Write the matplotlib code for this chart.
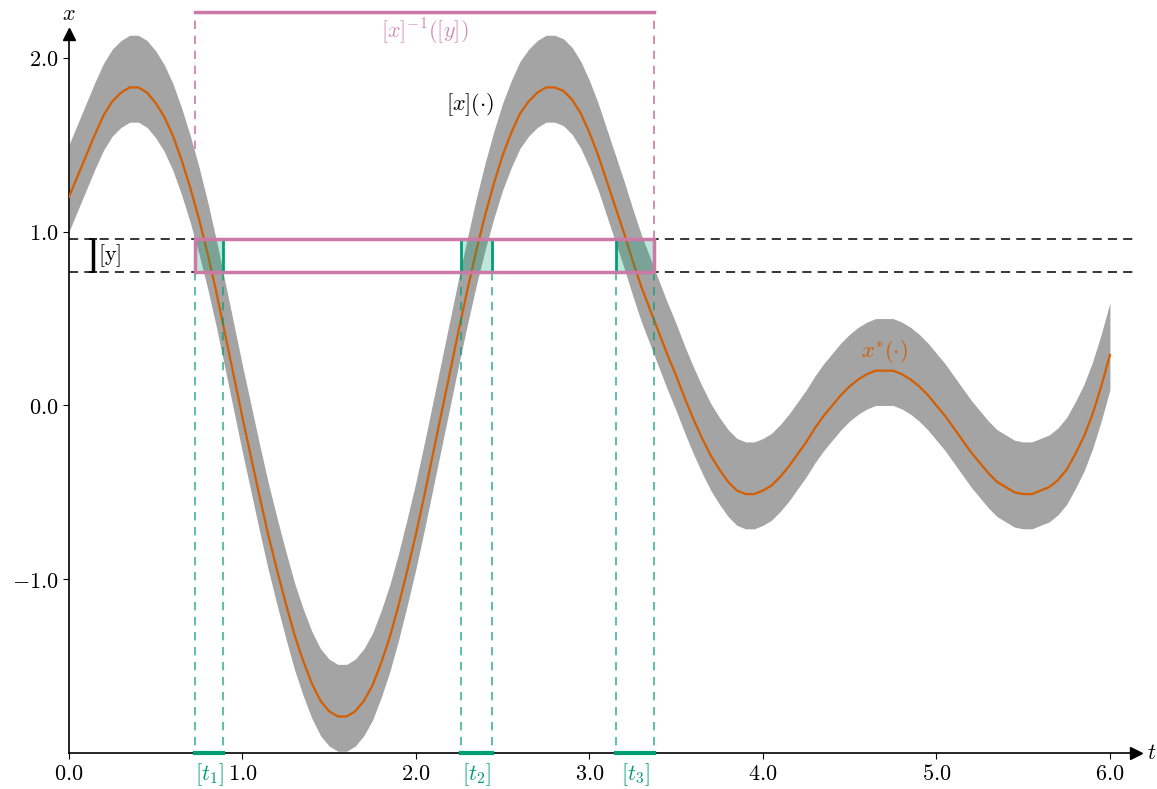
import matplotlib.pyplot as plt
import numpy as np
from matplotlib.patches import Rectangle
from matplotlib.ticker import FuncFormatter

plt.rcParams['mathtext.fontset'] = 'cm'
plt.rcParams['font.family'] = ['DejaVu Serif']

# nominal trajectory x*(t), every 0.05
t = np.linspace(0.0, 6.0, 121)
x_star = [1.20, 1.32, 1.44, 1.56, 1.67, 1.75, 1.80, 1.83, 1.83, 1.80,
          1.74, 1.66, 1.55, 1.41, 1.25, 1.07, 0.87, 0.65, 0.41, 0.17,
          -0.07, -0.30, -0.53, -0.75, -0.95, -1.14, -1.32, -1.47, -1.60, -1.70,
          -1.76, -1.79, -1.79, -1.76, -1.70, -1.61, -1.48, -1.33, -1.15, -0.95,
          -0.74, -0.51, -0.27, -0.03, 0.21, 0.45, 0.68, 0.90, 1.10, 1.28,
          1.44, 1.57, 1.68, 1.75, 1.80, 1.83, 1.83, 1.81, 1.76, 1.68,
          1.57, 1.44, 1.29, 1.14, 0.99, 0.83, 0.68, 0.55, 0.42, 0.29,
          0.17, 0.04, -0.08, -0.19, -0.29, -0.37, -0.44, -0.49, -0.51, -0.51,
          -0.49, -0.46, -0.41, -0.35, -0.28, -0.21, -0.13, -0.06, 0.00, 0.06,
          0.11, 0.15, 0.18, 0.20, 0.20, 0.20, 0.18, 0.15, 0.11, 0.06,
          0.00, -0.06, -0.13, -0.20, -0.27, -0.33, -0.39, -0.44, -0.47, -0.50,
          -0.51, -0.51, -0.49, -0.47, -0.43, -0.37, -0.28, -0.18, -0.05, 0.11,
          0.29]
tube_up = 0.3    # [x](t) = [x*(t) - 0.2, x*(t) + 0.3]
tube_down = 0.2

y_box = [0.77, 0.955]                     # [y]
t_boxes = [[0.726, 0.889], [2.258, 2.436], [3.151, 3.374]]   # [t_1], [t_2], [t_3]
t_labels = ['$[t_1]$', '$[t_2]$', '$[t_3]$']
pre_box = [0.726, 3.374]                  # [x]^-1([y])

green = '#009e73'
pink = '#cc79a7'
orange = '#d55e00'

fig = plt.figure(figsize=(11.57, 7.89), dpi=100)
ax = fig.add_axes([0.0596, 0.0456, 0.9222, 0.9119])
ax.set_xlim(0, 6.15)
ax.set_ylim(-2.0, 2.14)

xs = np.array(x_star)
ax.fill_between(t, xs - tube_down, xs + tube_up, color='#a4a4a4', lw=0, zorder=2)
ax.plot(t, xs, color=orange, lw=1.6, zorder=3)

# measurement interval
for yv in y_box:
    ax.axhline(yv, color='k', ls=(0, (6, 4)), lw=1.1, zorder=1)
ax.errorbar(0.138, sum(y_box) / 2, yerr=(y_box[1] - y_box[0]) / 2, fmt='none',
            ecolor='k', elinewidth=2.5, capsize=3, capthick=1.2, zorder=5)
ax.text(0.17, sum(y_box) / 2, r'$[\mathrm{y}]$', fontsize=16, ha='left', va='center')

# time intervals
for (a, b), lab in zip(t_boxes, t_labels):
    ax.add_patch(Rectangle((a, y_box[0]), b - a, y_box[1] - y_box[0],
                           facecolor=(0, 0.62, 0.45, 0.25), edgecolor=green, lw=2, zorder=4))
    for tv in (a, b):
        ax.plot([tv, tv], [y_box[0], -2.0], color=green, ls=(0, (5, 4)), lw=1.2,
                alpha=0.75, zorder=3.5)
    ax.plot([a, b], [-2.0, -2.0], color=green, lw=3, clip_on=False, zorder=6)
    ax.text((a + b) / 2, -2.045, lab, color=green, fontsize=16, ha='center', va='top')

# preimage box
ax.add_patch(Rectangle((pre_box[0], y_box[0]), pre_box[1] - pre_box[0], y_box[1] - y_box[0],
                       fill=False, edgecolor=pink, lw=2.5, zorder=6))
ax.plot(pre_box, [2.265, 2.265], color=pink, lw=2.5, clip_on=False, zorder=6)
for tv in pre_box:
    ax.plot([tv, tv], [y_box[1], 2.265], color=pink, ls=(0, (5, 4)), lw=1.2,
            clip_on=False, zorder=1.5)
ax.text(sum(pre_box) / 2, 2.15, r'$[x]^{-1}([y])$', color=pink, alpha=0.85,
        fontsize=16, ha='center', va='center')

ax.text(2.31, 1.73, r'$[x](\cdot)$', fontsize=16, ha='center', va='center')
ax.text(4.70, 0.31, r'$x^{*}(\cdot)$', color=orange, fontsize=16, ha='center', va='center')

# axes
for s in ['top', 'right']:
    ax.spines[s].set_visible(False)
for s in ['left', 'bottom']:
    ax.spines[s].set_linewidth(1.2)
ax.plot(1, 0, '>k', ms=8, transform=ax.transAxes, clip_on=False)
ax.plot(0, 1, '^k', ms=8, transform=ax.transAxes, clip_on=False)
fig.text(1152 / 1157, 1 - 753 / 789, '$t$', fontsize=16, ha='center', va='center')
fig.text(69 / 1157, 1 - 14 / 789, '$x$', fontsize=16, ha='center', va='center')

ax.set_xticks(range(7))
ax.set_yticks([-1, 0, 1, 2])
fmt = FuncFormatter(lambda v, p: '$%.1f$' % v)
ax.xaxis.set_major_formatter(fmt)
ax.yaxis.set_major_formatter(fmt)
ax.tick_params(labelsize=16, length=4, width=0.8)

fig.savefig('out.png', dpi=100)
